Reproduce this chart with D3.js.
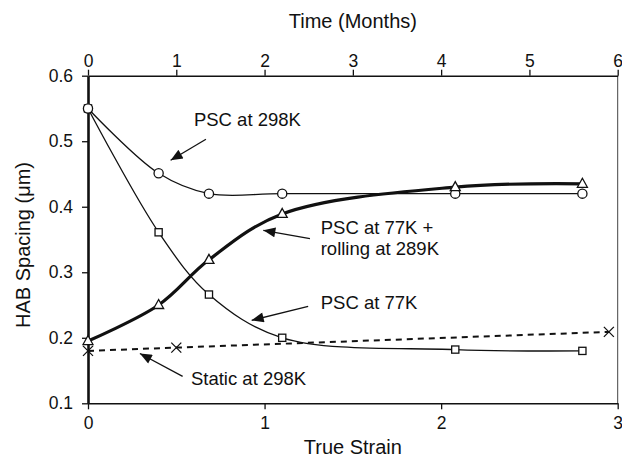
<!DOCTYPE html>
<html><head><meta charset="utf-8">
<script src="https://cdn.jsdelivr.net/npm/d3@7"></script>
<style>
body{margin:0;background:#fff;}
text{font-family:"Liberation Sans",Arial,Helvetica,sans-serif;fill:#111;}
</style></head>
<body><svg id="c" width="622" height="457"></svg>
<script>
// Data
const strainPts = [0, 0.4, 0.685, 1.1, 2.08, 2.8];
const psc298 = [0.55, 0.451, 0.42, 0.42, 0.42, 0.42];
const psc77roll = [0.195, 0.25, 0.319, 0.389, 0.43, 0.435];
const psc77 = [0.55, 0.361, 0.266, 0.2, 0.182, 0.18];
const staticStrain = [0, 0.5, 2.95];
const static298 = [0.18, 0.185, 0.209];
const yTicks = [0.1, 0.2, 0.3, 0.4, 0.5, 0.6];
const xTicks = [0, 1, 2, 3];
const monthTicks = [0, 1, 2, 3, 4, 5, 6];
const labels = [
  {lines:["PSC at 298K"], tx:0.6, ty:0.5234, ax1:0.668, ay1:0.503, ax2:0.468, ay2:0.471},
  {lines:["PSC at 77K +","rolling at 289K"], tx:1.318, ty:0.358, ax1:1.257, ay1:0.3515, ax2:0.993, ay2:0.364},
  {lines:["PSC at 77K"], tx:1.318, ty:0.2446, ax1:1.247, ay1:0.248, ax2:0.927, ay2:0.2267},
  {lines:["Static at 298K"], tx:0.583, ty:0.1275, ax1:0.536, ay1:0.141, ax2:0.294, ay2:0.176}
];

const svg = d3.select("#c");
const m = {l:88, r:4.3, t:75.7, b:53.7};
const W = 622, H = 457;
const x = d3.scaleLinear().domain([0,3]).range([m.l, W-m.r]);
const xm = d3.scaleLinear().domain([0,6]).range([m.l, W-m.r]);
const y = d3.scaleLinear().domain([0.1,0.6]).range([H-m.b, m.t]);

svg.append("defs").append("marker")
  .attr("id","ah").attr("markerUnits","userSpaceOnUse")
  .attr("viewBox","0 0 12 10").attr("refX",12).attr("refY",5)
  .attr("markerWidth",13).attr("markerHeight",10).attr("orient","auto")
  .append("path").attr("d","M0,0 L12,5 L0,10 Z").attr("fill","#111");

// right border
svg.append("line").attr("x1",x(3)).attr("x2",x(3)).attr("y1",y(0.6)).attr("y2",y(0.1))
  .attr("stroke","#444").attr("stroke-width",1);

const fs = "17.5px";
// bottom axis
const gb = svg.append("g").attr("transform",`translate(0,${y(0.1)})`)
  .call(d3.axisBottom(x).tickValues(xTicks).tickFormat(d3.format("d")).tickSize(6).tickSizeOuter(0));
gb.selectAll("text").attr("font-size",fs).attr("dy","0.95em");
// top axis
const gt = svg.append("g").attr("transform",`translate(0,${y(0.6)})`)
  .call(d3.axisTop(xm).tickValues(monthTicks).tickFormat(d3.format("d")).tickSize(6).tickSizeOuter(0));
gt.selectAll("text").attr("font-size",fs);
// left axis
const gl = svg.append("g").attr("transform",`translate(${x(0)},0)`)
  .call(d3.axisLeft(y).tickValues(yTicks).tickFormat(d3.format(".1f")).tickSize(6).tickSizeOuter(0));
gl.selectAll("text").attr("font-size",fs).attr("x",-15);
[gb,gt].forEach(g=>{g.select(".domain").attr("stroke","#111").attr("stroke-width",1.6);
  g.selectAll(".tick line").attr("stroke","#111").attr("stroke-width",1.3);});
gl.select(".domain").attr("stroke","#111").attr("stroke-width",2.6);
gl.selectAll(".tick line").attr("stroke","#111").attr("stroke-width",1.3);
svg.selectAll(".tick text").attr("fill","#111").attr("font-family","Liberation Sans, Arial, sans-serif");

// titles
svg.append("text").attr("x",(x(0)+x(3))/2).attr("y",27.5).attr("text-anchor","middle").attr("font-size","20px").text("Time (Months)");
svg.append("text").attr("x",(x(0)+x(3))/2).attr("y",454).attr("text-anchor","middle").attr("font-size","20px").text("True Strain");
svg.append("text").attr("transform","translate(30,245) rotate(-90)").attr("text-anchor","middle").attr("font-size","20px").text("HAB Spacing (μm)");

// series
const line = d3.line().x(d=>x(d[0])).y(d=>y(d[1])).curve(d3.curveCatmullRom.alpha(0.5));
const zip = (xs,ys)=>xs.map((v,i)=>[v,ys[i]]);
svg.append("path").datum(zip(strainPts,psc298)).attr("d",line).attr("fill","none").attr("stroke","#111").attr("stroke-width",1.3);
svg.append("path").datum(zip(strainPts,psc77)).attr("d",line).attr("fill","none").attr("stroke","#111").attr("stroke-width",1.3);
svg.append("path").datum(zip(strainPts,psc77roll)).attr("d",line).attr("fill","none").attr("stroke","#111").attr("stroke-width",3.2);
svg.append("path").datum(zip(staticStrain,static298)).attr("d",d3.line().x(d=>x(d[0])).y(d=>y(d[1])))
  .attr("fill","none").attr("stroke","#111").attr("stroke-width",2).attr("stroke-dasharray","6,5");

// markers
const mk = (data, type)=>{
  const g = svg.append("g");
  data.forEach(d=>{
    const cx=x(d[0]), cy=y(d[1]);
    if(type==="circle") g.append("circle").attr("cx",cx).attr("cy",cy).attr("r",4.6).attr("fill","#fff").attr("stroke","#111").attr("stroke-width",1.3);
    if(type==="square") g.append("rect").attr("x",cx-3.6).attr("y",cy-3.6).attr("width",7.2).attr("height",7.2).attr("fill","#fff").attr("stroke","#111").attr("stroke-width",1.3);
    if(type==="tri") g.append("path").attr("d",`M${cx},${cy-5.5}L${cx+5},${cy+3.5}L${cx-5},${cy+3.5}Z`).attr("fill","#fff").attr("stroke","#111").attr("stroke-width",1.3);
    if(type==="x") g.append("path").attr("d",`M${cx-5},${cy-5}L${cx+5},${cy+5}M${cx-5},${cy+5}L${cx+5},${cy-5}`).attr("stroke","#111").attr("stroke-width",1.3);
  });
};
mk(zip(strainPts,psc77),"square");
mk(zip(strainPts,psc298),"circle");
mk(zip(strainPts,psc77roll),"tri");
mk(zip(staticStrain,static298),"x");

// annotations
labels.forEach(a=>{
  const t = svg.append("text").attr("x",x(a.tx)).attr("y",y(a.ty)).attr("font-size","18.5px");
  a.lines.forEach((s,i)=>t.append("tspan").attr("x",x(a.tx)).attr("dy",i?21:0).text(s));
  svg.append("line").attr("x1",x(a.ax1)).attr("y1",y(a.ay1)).attr("x2",x(a.ax2)).attr("y2",y(a.ay2))
    .attr("stroke","#111").attr("stroke-width",1.3).attr("marker-end","url(#ah)");
});
</script></body></html>
